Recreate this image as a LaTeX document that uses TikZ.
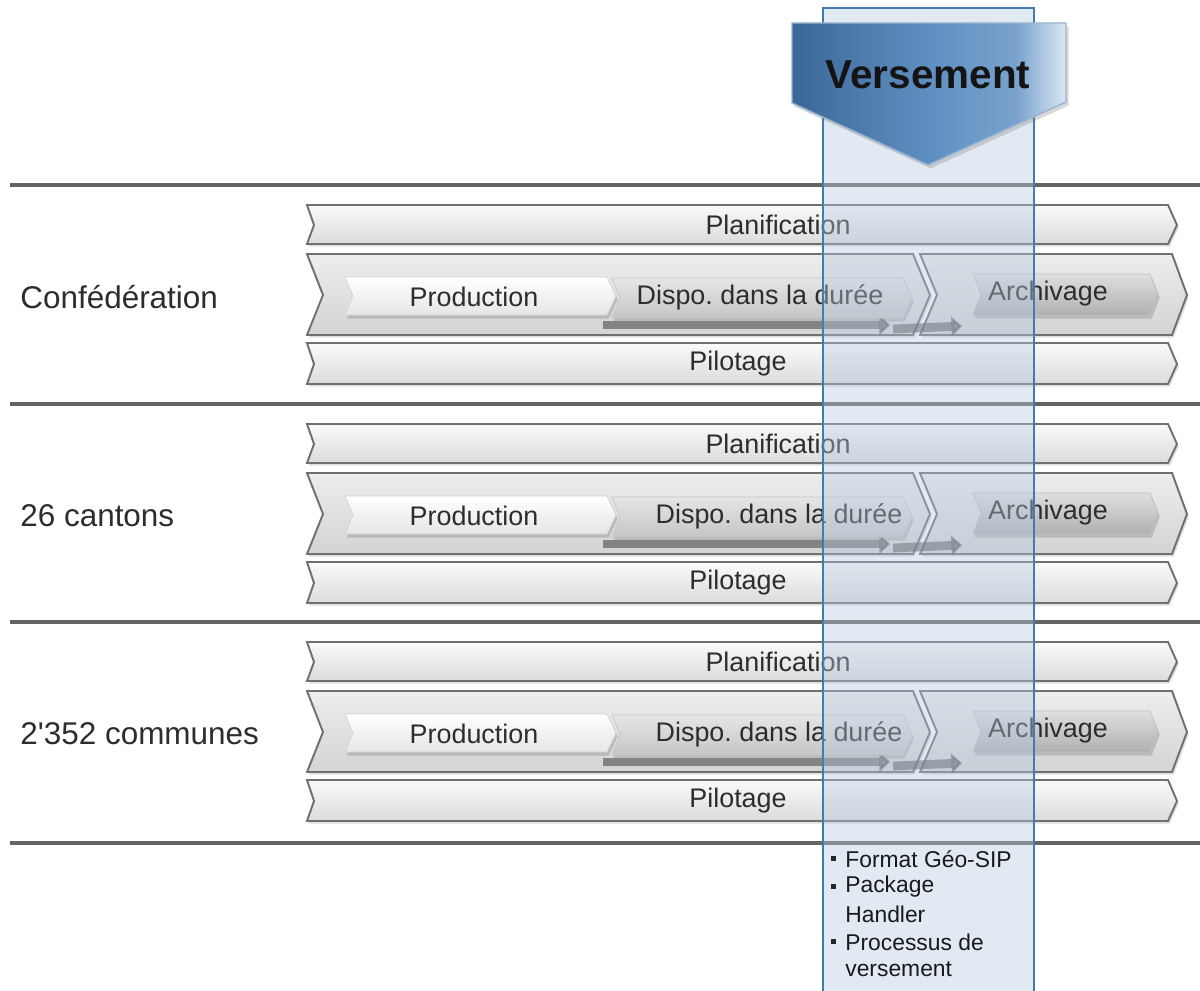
\documentclass[tikz,border=0pt]{standalone}
\usepackage{fontspec}
\setmainfont{Liberation Sans}
\usetikzlibrary{shadows,arrows.meta}
\frenchspacing

\definecolor{edgegray}{RGB}{112,112,112}
\definecolor{rulegray}{RGB}{100,100,100}
\definecolor{txtgray}{RGB}{45,45,45}
\definecolor{vdark}{RGB}{58,104,152}
\definecolor{vmid}{RGB}{98,146,196}
\definecolor{vlight}{RGB}{218,231,244}
\definecolor{colfill}{RGB}{180,200,222}
\definecolor{coledge}{RGB}{70,122,172}
\pgfdeclarehorizontalshading{vshade}{100bp}{color(0bp)=(vdark); color(25bp)=(vdark);
  color(52bp)=(vmid); color(66bp)=(vmid!85!white); color(75bp)=(vlight); color(100bp)=(vlight)}

\tikzset{
  band/.style={draw=edgegray, line width=1.1pt, top color=gray!4, bottom color=gray!28,
    drop shadow={opacity=0.25, shadow xshift=1pt, shadow yshift=-1.5pt}},
  bigband/.style={draw=edgegray, line width=1.1pt, top color=gray!14, bottom color=gray!34,
    drop shadow={opacity=0.25, shadow xshift=1pt, shadow yshift=-1.5pt}},
  prodbox/.style={top color=white, bottom color=gray!20, draw=gray!35,
    drop shadow={opacity=0.35, shadow xshift=1pt, shadow yshift=-2pt}},
  dispobox/.style={top color=gray!20, bottom color=gray!45, draw=gray!45,
    drop shadow={opacity=0.35, shadow xshift=1pt, shadow yshift=-2pt}},
  archbox/.style={top color=gray!25, bottom color=gray!62, draw=gray!50,
    drop shadow={opacity=0.35, shadow xshift=1pt, shadow yshift=-2pt}},
  flowarrow/.style={draw=gray!60!black, opacity=0.6, line width=5pt,
    -{Triangle[length=6pt,width=11pt]}},
  lbl/.style={font=\fontsize{15.3}{18}\selectfont, text=txtgray, inner sep=0pt},
  rowlbl/.style={font=\fontsize{17.9}{21}\selectfont, text=txtgray, inner sep=0pt, anchor=west},
  itemlbl/.style={font=\fontsize{13}{15}\selectfont, text=black!90, inner sep=0pt, anchor=west},
}

\begin{document}
\begin{tikzpicture}[x=0.2mm, y=-0.2mm]
\useasboundingbox (0,0) rectangle (1200,990);

% separators
\draw[rulegray, line width=1.8pt] (10,185) -- (1200,185);
\draw[rulegray, line width=1.8pt] (10,404) -- (1200,404);
\draw[rulegray, line width=1.8pt] (10,622) -- (1200,622);
\draw[rulegray, line width=1.8pt] (10,843) -- (1200,843);

% three levels
\foreach \dy/\lab/\dx/\r in {0/Confédération/760/a,
                             219/26 cantons/779/b,
                             437/2\textquotesingle 352 communes/779/c} {
\begin{scope}[shift={(0,\dy)}]
  \node[rowlbl] (level\r) at (20,297) {\lab};

  % planification / pilotage
  \draw[band] (307,205) -- (1168,205) -- (1177,225) -- (1168,244) -- (307,244) -- (314,225) -- cycle;
  \node[lbl] (plan\r) at (778,225) {Planification};
  \draw[band] (307,343) -- (1168,343) -- (1177,364) -- (1168,384) -- (307,384) -- (314,364) -- cycle;
  \node[lbl] (pilot\r) at (738,364) {Pilotage};

  % main process
  \draw[bigband] (307,254) -- (913,254) -- (930,295) -- (913,335) -- (307,335) -- (323,295) -- cycle;
  \draw[bigband] (920,254) -- (1172,254) -- (1187,295) -- (1172,335) -- (920,335) -- (937,295) -- cycle;

  \coordinate (fa\r) at (603,325);
  \coordinate (fb\r) at (890,325);
  \coordinate (fc\r) at (893,329);
  \coordinate (fd\r) at (962,326);
  \draw[flowarrow] (fa\r) -- (fb\r);
  \draw[flowarrow] (fc\r) -- (fd\r);

  \draw[dispobox] (612,278) -- (903,278) -- (912,298) -- (903,318) -- (612,318) -- (620,298) -- cycle;
  \node[lbl] (dispo\r) at (\dx,297) {Dispo.\ dans la durée};
  \draw[prodbox] (345,277) -- (607,277) -- (616,296) -- (607,315) -- (345,315) -- (353,296) -- cycle;
  \node[lbl] (prod\r) at (474,297) {Production};
  \draw[archbox] (973,274) -- (1150,274) -- (1158,294) -- (1150,315) -- (973,315) -- (981,294) -- cycle;
  \node[lbl] (arch\r) at (1048,294) {Archivage};
\end{scope}
}

% versement column
\draw[coledge, line width=0.8pt, fill=colfill, fill opacity=0.4] (823,8) rectangle (1034,995);
\draw[vlight!60!vdark, line width=0.8pt, shading=vshade,
  drop shadow={opacity=0.3, shadow xshift=1.5pt, shadow yshift=-2pt}]
  (792,23) -- (1066,23) -- (1066,102) -- (928,165) -- (792,103) -- cycle;
\node[font=\fontsize{23}{27}\selectfont\bfseries, text=black!92, inner sep=0pt] (vers) at (928,75) {Versement};

% items
\foreach \yy/\txt/\bul/\n in {859/Format Géo-SIP/1/1, 887/Package/1/2, 914/Handler/0/3,
                              942/Processus de/1/4, 969/versement/0/5} {
  \node[itemlbl] (item\n) at (845,\yy) {\txt};
  \ifnum\bul=1 \fill[black!85] (831,\yy-3) rectangle (836,\yy+2); \fi
}
\end{tikzpicture}
\end{document}
